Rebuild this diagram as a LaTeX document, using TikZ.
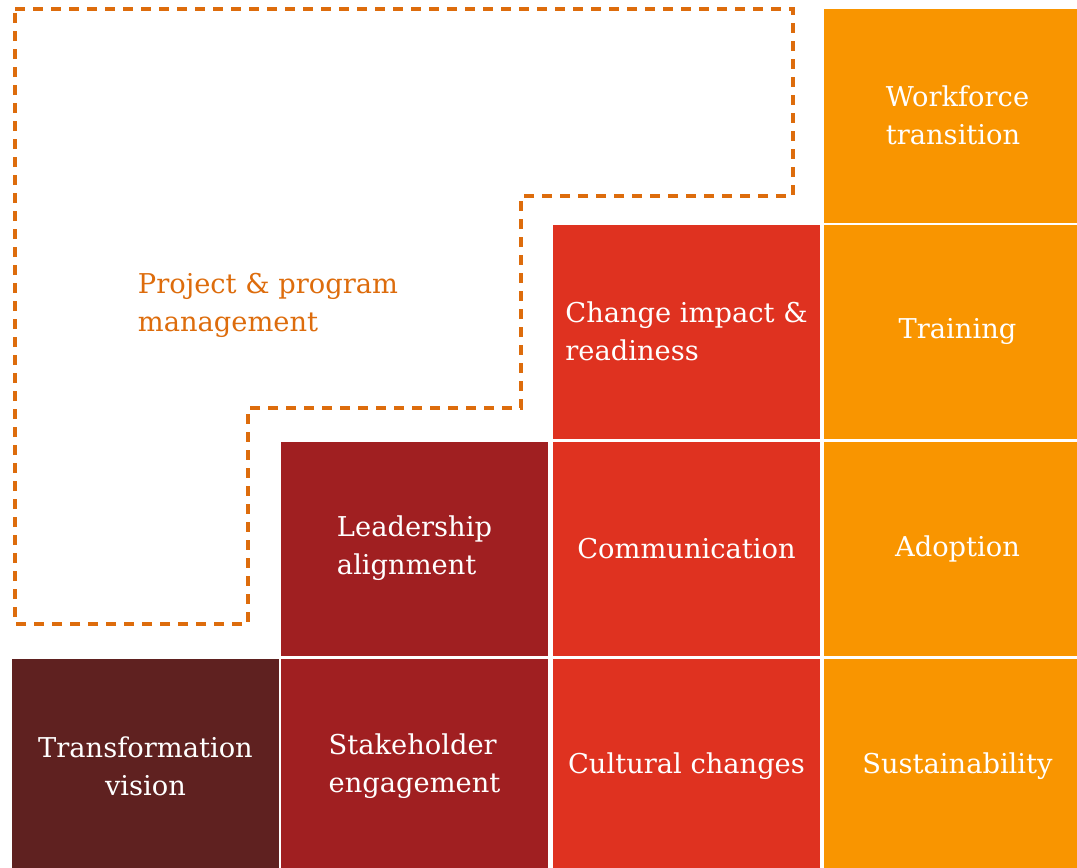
\documentclass[tikz,border=0pt]{standalone}
\usepackage{fontspec}
\setmainfont{DejaVu Serif}
\definecolor{maroon}{HTML}{5F2120}
\definecolor{brick}{HTML}{A01F21}
\definecolor{flame}{HTML}{DF3220}
\definecolor{amber}{HTML}{F99500}
\definecolor{pmline}{HTML}{DD6C0C}
\begin{document}
\begin{tikzpicture}[x=1pt,y=-1pt,line join=miter,
  font=\fontsize{27.3}{38}\selectfont,
  cell/.style={minimum width=267pt,minimum height=214pt,inner sep=0pt,outer sep=0pt,text=white},
  pmbox/.style={draw=pmline,line width=3.4pt,dash pattern=on 10pt off 8pt}]
  \clip (0,0) rectangle (1077,868);
  % project & program management area
  \draw[pmbox] (15,9) -- (793,9) -- (793,196) -- (521,196) -- (521,408)
    -- (248,408) -- (248,624) -- (15,624) -- cycle;
  \node[text=pmline,align=left] (pm) at (268,305) {Project \& program\\management};
  % column 1
  \node[cell,fill=maroon,align=center] (vision) at (145.5,766) {Transformation\\vision};
  % column 2
  \node[cell,fill=brick,align=left] (lead) at (414.5,548.5) {Leadership\\alignment};
  \node[cell,fill=brick,align=left] (stake) at (414.5,766) {Stakeholder\\engagement};
  % column 3
  \node[cell,fill=flame,align=left] (impact) at (686.5,331.5) {Change impact \&\\readiness};
  \node[cell,fill=flame] (comm) at (686.5,548.5) {Communication};
  \node[cell,fill=flame] (culture) at (686.5,766) {Cultural changes};
  % column 4
  \node[cell,fill=amber,align=left] (workforce) at (957.5,115.5) {Workforce\\transition};
  \node[cell,fill=amber] (training) at (957.5,331.5) {Training};
  \node[cell,fill=amber] (adoption) at (957.5,548.5) {Adoption};
  \node[cell,fill=amber] (sustain) at (957.5,766) {Sustainability};
\end{tikzpicture}
\end{document}
